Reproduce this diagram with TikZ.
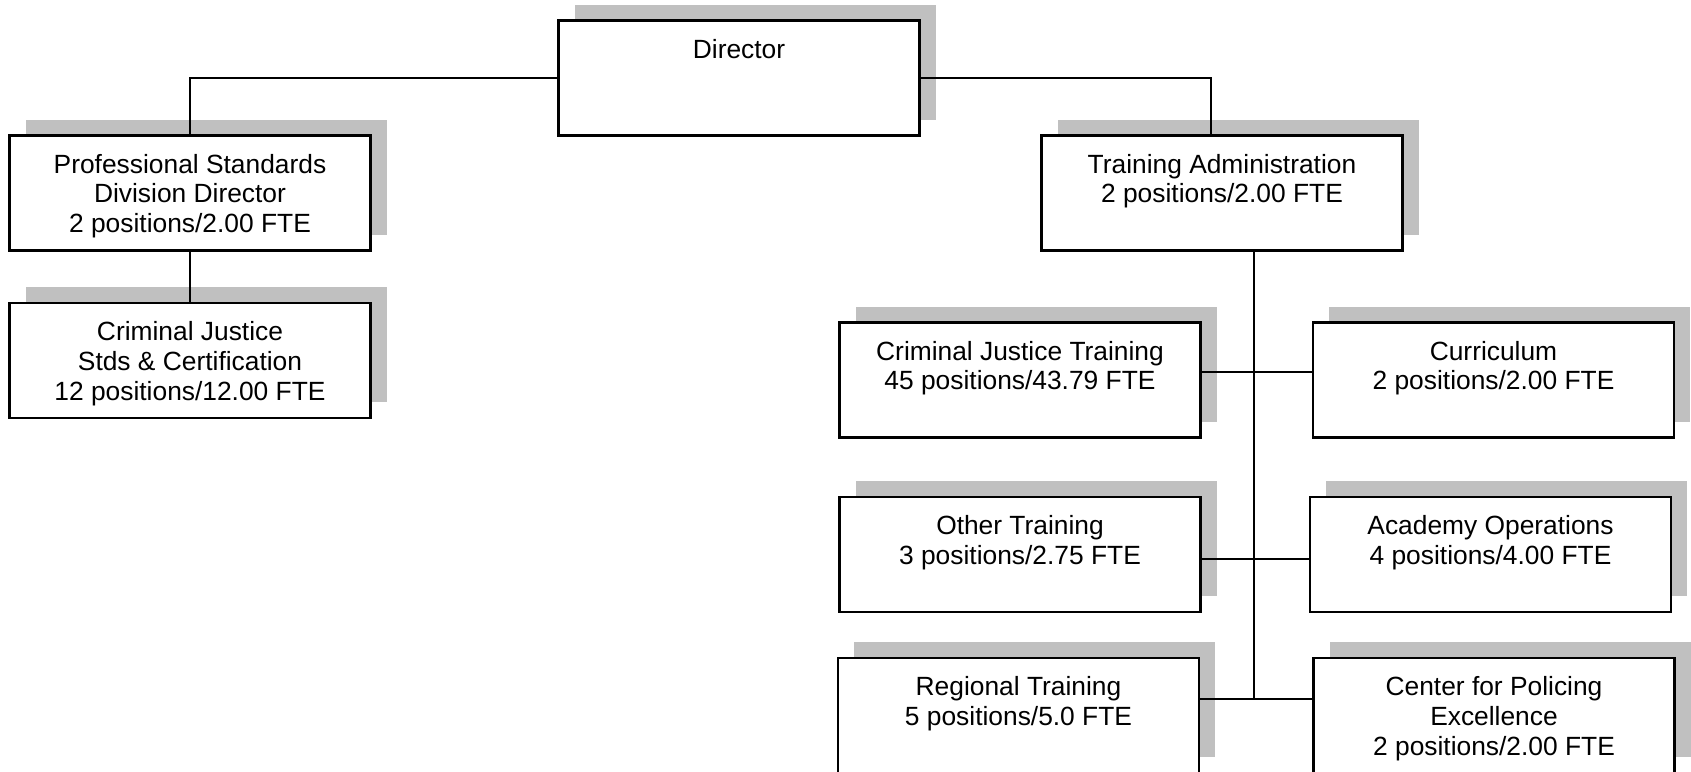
\documentclass[tikz,border=0pt]{standalone}
\usepackage{fontspec}
\setmainfont{Liberation Sans}
\usetikzlibrary{shadows}
\definecolor{shadowgray}{RGB}{192,192,192}

\begin{document}
\begin{tikzpicture}[
  org box/.style={
    draw,
    line width=1.2pt,
    fill=white,
    minimum width=7.22cm,
    minimum height=2.3cm,
    inner sep=0pt,
    font=\fontsize{15}{17}\selectfont,
    execute at begin node={\begin{minipage}[c][1.56cm][t]{6.8cm}\centering},
    execute at end node={\end{minipage}},
    drop shadow={shadow xshift=0.32cm, shadow yshift=0.32cm, fill=shadowgray, opacity=1}
  },
  org line/.style={
    line width=0.8pt
  }
]

\useasboundingbox (0,0) rectangle (33.82,-15.44);

\node[org box] (director) at (14.78, -1.56) {Director};
\node[org box] (psd) at (3.80, -3.86) {Professional Standards\\Division Director\\2 positions/2.00 FTE};
\node[org box] (cjsc) at (3.80, -7.21) {Criminal Justice\\Stds \& Certification\\12 positions/12.00 FTE};
\node[org box] (tadmin) at (24.44, -3.86) {Training Administration\\2 positions/2.00 FTE};

\node[org box] (cjt) at (20.40, -7.60) {Criminal Justice Training\\45 positions/43.79 FTE};
\node[org box] (curr) at (29.87, -7.60) {Curriculum\\2 positions/2.00 FTE};
\node[org box] (other) at (20.40, -11.09) {Other Training\\3 positions/2.75 FTE};
\node[org box] (academy) at (29.81, -11.09) {Academy Operations\\4 positions/4.00 FTE};
\node[org box] (regional) at (20.37, -14.31) {Regional Training\\5 positions/5.0 FTE};
\node[org box] (cpe) at (29.88, -14.31) {Center for Policing\\Excellence\\2 positions/2.00 FTE};

\coordinate (trunk) at ([xshift=0.64cm]tadmin.south);
\coordinate (j1) at (25.08, -7.44);
\coordinate (j2) at (25.08, -11.18);
\coordinate (j3) at (25.08, -13.98);

\draw[org line] (director.west) -| (psd.north);
\draw[org line] (director.east) -| ([xshift=-0.22cm]tadmin.north);
\draw[org line] (psd) -- (cjsc);
\draw[org line] (trunk) -- (j3);
\draw[org line] (cjt.east |- j1) -- (curr.west |- j1);
\draw[org line] (other.east |- j2) -- (academy.west |- j2);
\draw[org line] (regional.east |- j3) -- (cpe.west |- j3);

\end{tikzpicture}
\end{document}
